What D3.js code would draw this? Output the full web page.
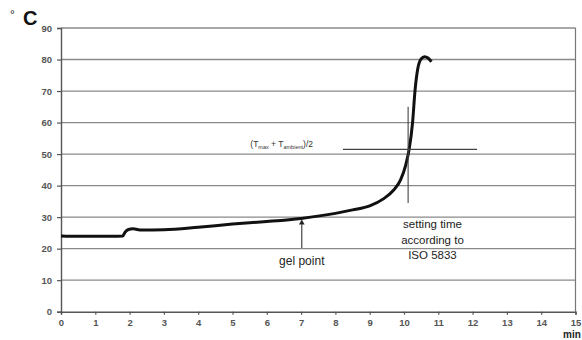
<!DOCTYPE html>
<html>
<head>
<meta charset="utf-8">
<script src="https://cdn.jsdelivr.net/npm/d3@7"></script>
<style>
  body { margin: 0; background: #fff; }
  svg { display: block; font-family: "Liberation Sans", Arial, sans-serif; }
</style>
</head>
<body>
<svg id="chart" width="582" height="340"></svg>
<script>
// time axis (min) and temperature axis (°C)
const xTicks = [0, 1, 2, 3, 4, 5, 6, 7, 8, 9, 10, 11, 12, 13, 14, 15];
const yTicks = [0, 10, 20, 30, 40, 50, 60, 70, 80, 90];

// temperature curve
const curveTime = [0, 0.5, 1.0, 1.5, 1.8, 1.86, 1.95, 2.1, 2.35, 3.0, 4.0, 5.0, 6.0, 7.0, 8.0, 8.5, 9.0, 9.4, 9.7, 9.9, 10.05, 10.15, 10.25, 10.32, 10.4, 10.5, 10.6, 10.7, 10.8];
const curveTemp = [24.0, 23.9, 23.9, 23.9, 24.0, 25.1, 26.0, 26.3, 25.9, 26.0, 26.8, 27.8, 28.6, 29.6, 31.2, 32.3, 33.6, 35.8, 38.6, 41.8, 46.5, 51.5, 60, 70, 77, 80.2, 80.9, 80.5, 79.3];

// annotations
const halfLevel = 51.5;
const halfSpan = [8.22, 12.13];
const settingTime = 10.12;
const settingSpan = [34.5, 65];
const gelTime = 7.02;
const gelSpan = [20.2, 29.0];

const width = 582, height = 340;
const margin = { top: 28, right: 6.5, bottom: 28.3, left: 61 };

const svg = d3.select("#chart");

const x = d3.scaleLinear().domain([0, 15]).range([margin.left, width - margin.right]);
const y = d3.scaleLinear().domain([0, 90]).range([height - margin.bottom, margin.top]);

// horizontal grid
svg.append("g")
  .selectAll("line")
  .data(yTicks.filter(d => d > 0))
  .enter()
  .append("line")
    .attr("x1", x(0)).attr("x2", x(15))
    .attr("y1", d => y(d)).attr("y2", d => y(d))
    .attr("stroke", "#8a8a8a")
    .attr("stroke-width", 1.3);

// right border
svg.append("line")
  .attr("x1", x(15)).attr("x2", x(15))
  .attr("y1", y(0)).attr("y2", y(90))
  .attr("stroke", "#777").attr("stroke-width", 1.2);

// axes
const xAxis = d3.axisBottom(x).tickValues(xTicks).tickSize(3).tickPadding(5).tickFormat(d3.format("d"));
const yAxis = d3.axisLeft(y).tickValues(yTicks).tickSize(4).tickPadding(5).tickFormat(d3.format("d"));

const gx = svg.append("g").attr("transform", `translate(0,${y(0)})`).call(xAxis);
const gy = svg.append("g").attr("transform", `translate(${x(0)},0)`).call(yAxis);

[gx, gy].forEach(g => {
  g.select(".domain").attr("stroke", "#555").attr("stroke-width", 1.4);
  g.selectAll(".tick line").attr("stroke", "#555").attr("stroke-width", 1.2);
  g.selectAll(".tick text").attr("fill", "#555").attr("font-size", 9.5).attr("font-weight", "bold");
});

// temperature curve
const line = d3.line()
  .x((d, i) => x(curveTime[i]))
  .y(d => y(d))
  .curve(d3.curveMonotoneX);

svg.append("path")
  .datum(curveTemp)
  .attr("d", line)
  .attr("fill", "none")
  .attr("stroke", "#111")
  .attr("stroke-width", 3)
  .attr("stroke-linejoin", "round");

// (Tmax + Tambient)/2 level
svg.append("line")
  .attr("x1", x(halfSpan[0])).attr("x2", x(halfSpan[1]))
  .attr("y1", y(halfLevel)).attr("y2", y(halfLevel))
  .attr("stroke", "#444").attr("stroke-width", 1.1);

const lbl = svg.append("text")
  .attr("x", x(5.52)).attr("y", y(halfLevel) - 2)
  .attr("font-size", 8.5).attr("fill", "#333");
lbl.append("tspan").text("(T");
lbl.append("tspan").attr("font-size", 5.5).attr("dy", 1.8).text("max");
lbl.append("tspan").attr("dy", -1.8).text(" + T");
lbl.append("tspan").attr("font-size", 5.5).attr("dy", 1.8).text("ambient");
lbl.append("tspan").attr("dy", -1.8).text(")/2");

// setting time marker
svg.append("line")
  .attr("x1", x(settingTime)).attr("x2", x(settingTime))
  .attr("y1", y(settingSpan[0])).attr("y2", y(settingSpan[1]))
  .attr("stroke", "#444").attr("stroke-width", 1.1);

const st = svg.append("text")
  .attr("text-anchor", "middle")
  .attr("font-size", 11.5)
  .attr("fill", "#222");
["setting time", "according to", "ISO 5833"].forEach((t, i) => {
  st.append("tspan").attr("x", x(10.83)).attr("y", y(26.4) + i * 15.5).text(t);
});

// gel point arrow
svg.append("line")
  .attr("x1", x(gelTime)).attr("x2", x(gelTime))
  .attr("y1", y(gelSpan[0])).attr("y2", y(gelSpan[1]) + 4)
  .attr("stroke", "#333").attr("stroke-width", 1.1);
svg.append("path")
  .attr("d", d3.symbol().type(d3.symbolTriangle).size(14)())
  .attr("transform", `translate(${x(gelTime)},${y(gelSpan[1]) + 2.5})`)
  .attr("fill", "#222");

svg.append("text")
  .attr("x", x(gelTime)).attr("y", y(gelSpan[0]) + 17)
  .attr("text-anchor", "middle")
  .attr("font-size", 12)
  .attr("fill", "#222")
  .text("gel point");

// unit labels
svg.append("text")
  .attr("x", 10).attr("y", 19)
  .attr("font-size", 12).attr("fill", "#222")
  .text("°");
svg.append("text")
  .attr("x", 23).attr("y", 25)
  .attr("font-size", 20).attr("font-weight", "bold").attr("fill", "#111")
  .text("C");
svg.append("text")
  .attr("x", 563).attr("y", 338)
  .attr("font-size", 10).attr("font-weight", "bold").attr("fill", "#222")
  .text("min");
</script>
</body>
</html>
